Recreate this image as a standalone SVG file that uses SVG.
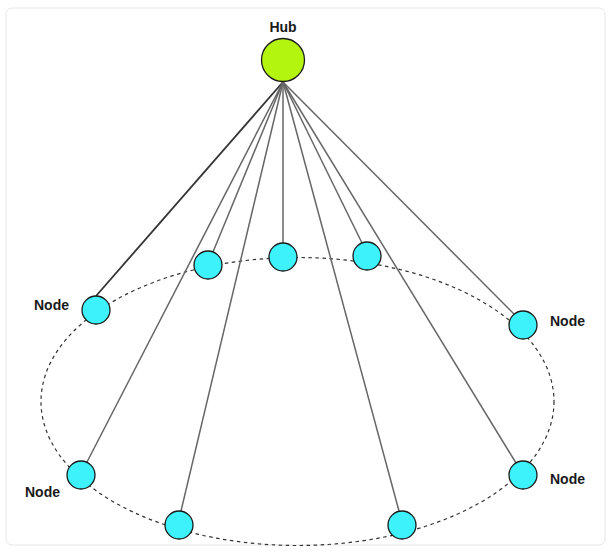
<svg xmlns="http://www.w3.org/2000/svg" width="614" height="555" viewBox="0 0 614 555">
<style>
.node circle{fill:#3ef2fb;stroke:#1a1a1a;stroke-width:1.3}
.hub circle{fill:#b4f510;stroke:#1a1a1a;stroke-width:1.3}
.lbl{font-family:"Liberation Sans",Arial,sans-serif;font-size:14px;font-weight:bold;fill:#1a1a1a}
#connectors line{stroke:#666;stroke-width:1.5}
</style>
<rect x="6" y="8" width="599" height="537" rx="6" fill="#fff" stroke="#e6e6e6" stroke-width="1"/>
<ellipse cx="297.5" cy="401.5" rx="256.5" ry="144" fill="none" stroke="#333" stroke-width="1.2" stroke-dasharray="3.5,3.5"/>
<g id="connectors">
<line x1="283" y1="82" x2="96" y2="296" style="stroke:#333;stroke-width:1.8"/>
<line x1="283" y1="82" x2="213" y2="252"/>
<line x1="283" y1="82" x2="283" y2="243"/>
<line x1="283" y1="82" x2="362" y2="243"/>
<line x1="283" y1="82" x2="514" y2="314"/>
<line x1="283" y1="82" x2="87" y2="462"/>
<line x1="283" y1="82" x2="181" y2="511"/>
<line x1="283" y1="82" x2="399" y2="511"/>
<line x1="283" y1="82" x2="516" y2="463"/>
</g>
<g id="hub" class="hub"><circle cx="283" cy="60" r="21.5"/><text class="lbl" x="283" y="32" text-anchor="middle">Hub</text></g>
<g id="n1" class="node"><circle cx="96" cy="310" r="14"/><text class="lbl" x="69" y="310" text-anchor="end">Node</text></g>
<g id="n2" class="node"><circle cx="208" cy="265" r="14"/></g>
<g id="n3" class="node"><circle cx="283" cy="257" r="14"/></g>
<g id="n4" class="node"><circle cx="367" cy="256" r="14"/></g>
<g id="n5" class="node"><circle cx="523" cy="325" r="14"/><text class="lbl" x="550" y="326">Node</text></g>
<g id="n6" class="node"><circle cx="81" cy="475" r="14"/><text class="lbl" x="25" y="497">Node</text></g>
<g id="n7" class="node"><circle cx="523" cy="475" r="14"/><text class="lbl" x="550" y="484">Node</text></g>
<g id="n8" class="node"><circle cx="179" cy="525" r="14"/></g>
<g id="n9" class="node"><circle cx="402" cy="525" r="14"/></g>
</svg>
